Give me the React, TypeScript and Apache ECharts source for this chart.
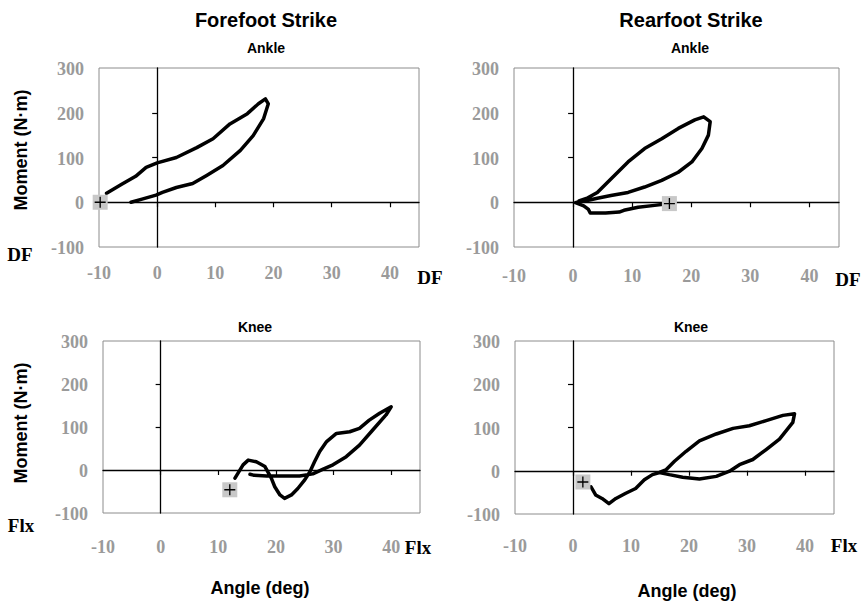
import React, { useEffect, useRef } from "react";
import * as echarts from "echarts";

// ---- tick values / ranges ----
const xLabelValues = [-10, 0, 10, 20, 30, 40];
const yLabelValues = [-100, 0, 100, 200, 300];
const xTickMarks = [0, 10, 20, 30, 40];
const yTickMarks = [100, 200];
const xMin = -10;
const xMax = 45;
const yMin = -100;
const yMax = 300;

// ---- Forefoot strike, ankle ----
const ffAnkleX = [-8.7, -6.1, -3.7, -1.9, 0, 3.3, 6.8, 9.6, 12.5, 15.5, 17.4, 18.6, 19.1, 18.3, 16.5, 14.3, 11.3, 8.5, 6.1, 3.3, 0.9, -0.2, -2.6, -4.5];
const ffAnkleY = [20, 40, 58, 78, 88, 100, 122, 142, 175, 198, 220, 231, 220, 187, 149, 116, 82, 60, 42, 33, 22, 16, 7, 0];

// ---- Rearfoot strike, ankle ----
const rfAnkleX = [16.3, 13.8, 11, 8.6, 7.8, 5.5, 2.9, 2.6, 1.8, 0.4, 1.2, 2.4, 4.1, 6.4, 9.3, 12.1, 15, 17.8, 20.1, 21.8, 22.9, 23.2, 22.1, 20.6, 17.8, 15, 12.1, 9.3, 6.4, 4.1, 2.5, 1];
const rfAnkleY = [-3, -7, -11, -18, -22, -24, -24, -16, -8, -1, 2, 4, 9, 15, 22, 34, 49, 67, 90, 120, 150, 180, 191, 184, 165, 142, 120, 90, 52, 22, 10, 3];

// ---- Forefoot strike, knee ----
const ffKneeX = [12.9, 14.3, 15.2, 16.6, 18.1, 19.2, 19.8, 20.7, 21.5, 22.7, 23.8, 25, 25.9, 26.7, 27.6, 28.8, 30.5, 32.8, 34.5, 36.2, 38, 40, 39.1, 36.8, 34.5, 32.2, 29.9, 28.2, 26.4, 24.1, 21.2, 18.4, 16.1, 15.5];
const ffKneeY = [-19, 12, 23, 19, 8, -19, -39, -58, -66, -58, -43, -23, -4, 19, 43, 66, 85, 89, 97, 116, 132, 147, 128, 93, 58, 31, 12, 2, -9, -14, -14, -14, -12, -10];

// ---- Rearfoot strike, knee ----
const rfKneeX = [3.1, 3.9, 5, 6.2, 7.4, 9.1, 10.8, 12.3, 13.7, 14.9, 16, 17.5, 19.5, 21.8, 24.7, 27.6, 30.4, 33.3, 36.2, 38.2, 37.9, 35.6, 33.3, 31, 28.7, 27, 24.7, 21.8, 18.9, 16.6, 14.9];
const rfKneeY = [-37, -56, -64, -76, -64, -52, -41, -21, -9, -4, 2, 22, 45, 69, 85, 98, 104, 116, 128, 132, 112, 73, 49, 26, 14, -1, -13, -19, -15, -9, -4];

// ---- start markers (one per panel) ----
const markerX = [-9.8, 16.3, 12.0, 1.7];
const markerY = [0, -3, -46, -26];

const curvesX = [ffAnkleX, rfAnkleX, ffKneeX, rfKneeX];
const curvesY = [ffAnkleY, rfAnkleY, ffKneeY, rfKneeY];

// ---- layout (positions only) ----
const layouts = [
  { left: 99, top: 68, width: 320, height: 179, xLabelGap: 26 },
  { left: 514, top: 68, width: 325, height: 179, xLabelGap: 29 },
  { left: 103, top: 341, width: 317, height: 172, xLabelGap: 34 },
  { left: 515, top: 341, width: 319, height: 173, xLabelGap: 32 },
];
const yLabelGap = 15;

const tickColor = "#9a9a9a";
const sans = '"Liberation Sans", Arial, sans-serif';
const serif = '"Liberation Serif", "Times New Roman", serif';
const tickFontStr = `bold 18px ${serif}`;

function zip(xs: number[], ys: number[]) {
  return xs.map((x, i) => [x, ys[i]]);
}

function textEl(text: string, x: number, y: number, font: string, rotation = 0, fill = "#000", align = "center") {
  return {
    type: "text",
    x,
    y,
    rotation,
    silent: true,
    style: {
      text,
      fill,
      font,
      textAlign: align,
      textVerticalAlign: "middle",
      align,
      verticalAlign: "middle",
    },
  };
}

const titleFont = `bold 20px ${sans}`;
const subFont = `bold 14px ${sans}`;
const axisNameFont = `bold 18px ${sans}`;
const dirFont = `bold 19px ${serif}`;

const staticTexts = [
  textEl("Forefoot Strike", 266, 20, titleFont),
  textEl("Rearfoot Strike", 691, 20, titleFont),
  textEl("Ankle", 266, 48, subFont),
  textEl("Ankle", 690, 48, subFont),
  textEl("Knee", 255, 327, subFont),
  textEl("Knee", 691, 327, subFont),
  textEl("Moment (N·m)", 21, 150, axisNameFont, Math.PI / 2),
  textEl("Moment (N·m)", 21, 423, axisNameFont, Math.PI / 2),
  textEl("Angle (deg)", 260, 588, axisNameFont),
  textEl("Angle (deg)", 687, 591, axisNameFont),
  textEl("DF", 20, 254, dirFont),
  textEl("DF", 430, 277, dirFont),
  textEl("DF", 848, 279, dirFont),
  textEl("Flx", 21, 525, dirFont),
  textEl("Flx", 418, 547, dirFont),
  textEl("Flx", 844, 545, dirFont),
];

function buildOption() {
  const grid: any[] = [];
  const xAxis: any[] = [];
  const yAxis: any[] = [];
  const series: any[] = [];

  layouts.forEach((l, i) => {
    grid.push({
      left: l.left,
      top: l.top,
      width: l.width,
      height: l.height,
      show: true,
      borderColor: "#8c8c8c",
      borderWidth: 1,
      backgroundColor: "transparent",
      containLabel: false,
      outerBoundsMode: "none",
    });
    xAxis.push({
      gridIndex: i,
      type: "value",
      min: xMin,
      max: xMax,
      interval: 10,
      position: "bottom",
      axisLine: { show: true, onZero: true, onZeroAxisIndex: i, lineStyle: { color: "#000", width: 1.3 } },
      axisTick: { show: true, length: 5, customValues: xTickMarks, lineStyle: { color: "#000", width: 1.2 } },
      axisLabel: { show: false },
      splitLine: { show: false },
    });
    yAxis.push({
      gridIndex: i,
      type: "value",
      min: yMin,
      max: yMax,
      interval: 100,
      position: "left",
      axisLine: { show: true, onZero: true, onZeroAxisIndex: i, lineStyle: { color: "#000", width: 1.3 } },
      axisTick: { show: true, length: 5, customValues: yTickMarks, lineStyle: { color: "#000", width: 1.2 } },
      axisLabel: { show: false },
      splitLine: { show: false },
    });

    series.push({
      type: "line",
      xAxisIndex: i,
      yAxisIndex: i,
      data: zip(curvesX[i], curvesY[i]),
      showSymbol: false,
      symbol: "none",
      smooth: false,
      clip: false,
      silent: true,
      z: 3,
      lineStyle: { color: "#000", width: 3.5, join: "round", cap: "round" },
    });
    series.push({
      type: "scatter",
      xAxisIndex: i,
      yAxisIndex: i,
      data: [[markerX[i], markerY[i]]],
      symbol: "rect",
      symbolSize: 15,
      silent: true,
      z: 4,
      itemStyle: { color: "#c8c8c8", opacity: 1 },
    });
    series.push({
      type: "scatter",
      xAxisIndex: i,
      yAxisIndex: i,
      data: [[markerX[i], markerY[i]]],
      symbol: "path://M4.4,0h1.2v4.4h4.4v1.2h-4.4v4.4h-1.2v-4.4h-4.4v-1.2h4.4z",
      symbolSize: 11,
      silent: true,
      z: 5,
      itemStyle: { color: "#000", opacity: 1 },
    });
  });

  return {
    animation: false,
    backgroundColor: "#ffffff",
    grid,
    xAxis,
    yAxis,
    series,
    graphic: staticTexts,
  };
}

// tick labels placed with the axes' own scales (convertToPixel)
function tickLabelTexts(chart: echarts.ECharts) {
  const out: any[] = [];
  layouts.forEach((l, i) => {
    xLabelValues.forEach((v) => {
      const p = chart.convertToPixel({ gridIndex: i } as any, [v, yMin]) as number[];
      if (!p) return;
      out.push(textEl(String(v), p[0], p[1] + l.xLabelGap, tickFontStr, 0, tickColor, "center"));
    });
    yLabelValues.forEach((v) => {
      const p = chart.convertToPixel({ gridIndex: i } as any, [xMin, v]) as number[];
      if (!p) return;
      out.push(textEl(String(v), p[0] - yLabelGap, p[1] + 1, tickFontStr, 0, tickColor, "right"));
    });
  });
  return out;
}

export default function App() {
  const ref = useRef<HTMLDivElement>(null);
  useEffect(() => {
    if (!ref.current) return;
    const chart = echarts.init(ref.current, undefined, { renderer: "svg" });
    chart.setOption(buildOption() as any);
    chart.setOption({ graphic: [...staticTexts, ...tickLabelTexts(chart)] } as any);
    return () => {
      chart.dispose();
    };
  }, []);
  return (
    <div
      ref={ref}
      style={{ position: "absolute", left: 0, top: 0, width: 862, height: 603, background: "#fff" }}
    />
  );
}
